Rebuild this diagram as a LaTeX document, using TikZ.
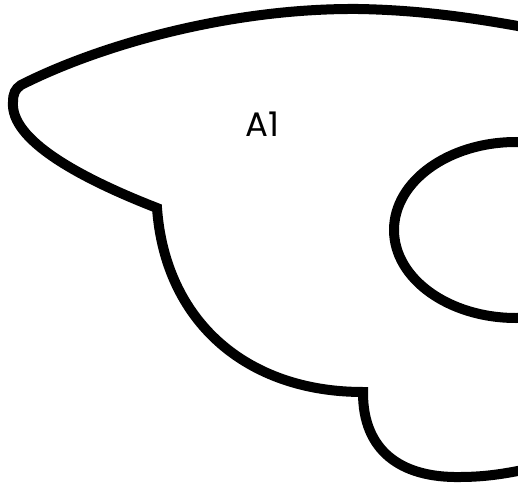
\documentclass[tikz,border=0pt]{standalone}
\usepackage{fontspec}
\setmainfont{Poppins}
\begin{document}
\begin{tikzpicture}[x=1pt,y=-1pt,
  outline/.style={draw=black,line width=10pt,miter limit=10},
  lbl/.style={font=\fontsize{34}{40}\selectfont,text=black,inner sep=0pt}]
\useasboundingbox (0,0) rectangle (518,486);
\clip (0,0) rectangle (518,486);
\draw[outline] (157,208)
  .. controls (80,178) and (10,140) .. (13,102)
  .. controls (13,94) and (15,89) .. (21,85)
  .. controls (100,45) and (230,8) .. (358,9)
  .. controls (420,10) and (480,18) .. (560,34)
  -- (560,462)
  .. controls (530,468) and (500,477) .. (460,477)
  .. controls (400,478) and (363,450) .. (363,393)
  -- (363,392)
  .. controls (245,392) and (165,320) .. (157,208) -- cycle;
\draw[outline] (516,230) ellipse [x radius=122, y radius=88];
\node[lbl] (a1) at (262,124) {A1};
\end{tikzpicture}
\end{document}
